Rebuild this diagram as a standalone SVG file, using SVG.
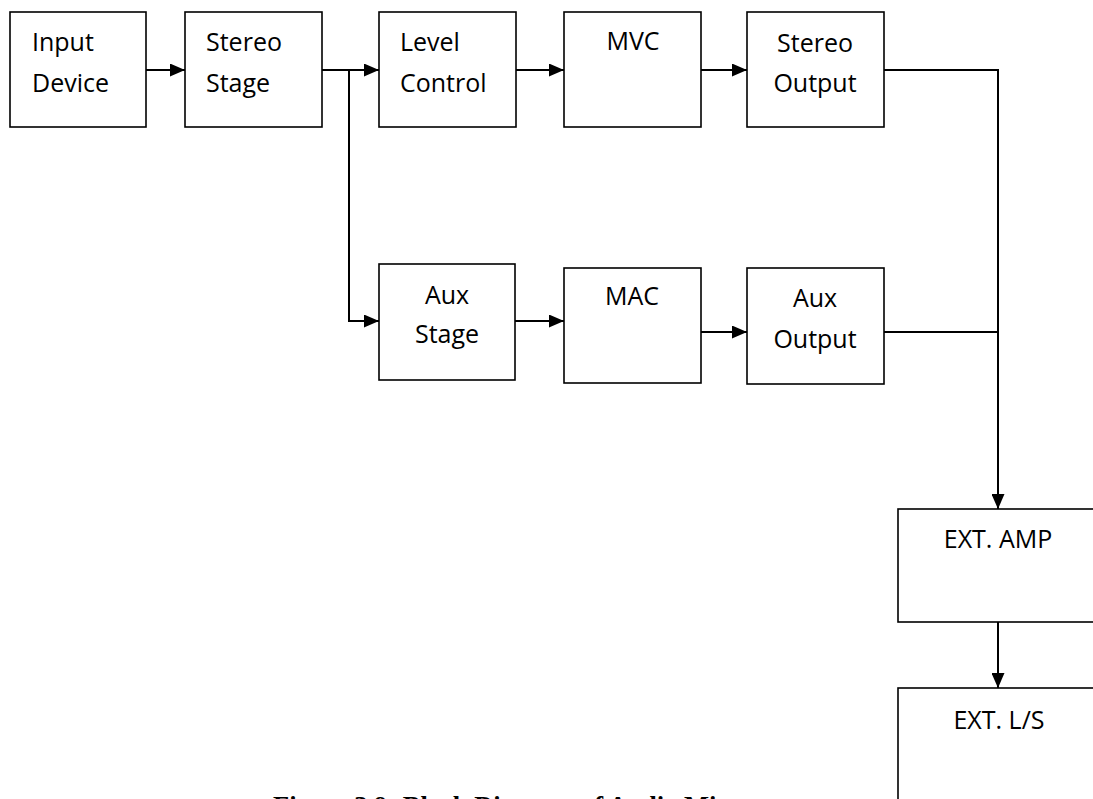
<svg xmlns="http://www.w3.org/2000/svg" width="1093" height="799" viewBox="0 0 1093 799">
<style>
.box{fill:#fff;stroke:#000;stroke-width:1.6}
.lbl{font-family:"Open Sans","Noto Sans",sans-serif;font-size:25px;fill:#000}
.mid{text-anchor:middle}
.conn{fill:none;stroke:#000;stroke-width:2}
.cap{font-family:"Liberation Serif","Times New Roman",serif;font-weight:bold;font-size:26.5px;fill:#000}
</style>
<defs>
<marker id="arr" markerUnits="userSpaceOnUse" markerWidth="15" markerHeight="13" refX="15" refY="6.5" orient="auto">
<path d="M0,0 L15,6.5 L0,13 z" fill="#000"/>
</marker>
</defs>
<rect width="1093" height="799" fill="#fff"/>
<g id="connectors">
<path class="conn" d="M146,70 H185" marker-end="url(#arr)"/>
<path class="conn" d="M322,70 H379" marker-end="url(#arr)"/>
<path class="conn" d="M349,70 V321 H379" marker-end="url(#arr)"/>
<path class="conn" d="M516,70 H564" marker-end="url(#arr)"/>
<path class="conn" d="M701,70 H747" marker-end="url(#arr)"/>
<path class="conn" d="M884,70 H998 V509" marker-end="url(#arr)"/>
<path class="conn" d="M515,321 H564" marker-end="url(#arr)"/>
<path class="conn" d="M701,332 H747" marker-end="url(#arr)"/>
<path class="conn" d="M884,332 H998"/>
<path class="conn" d="M998,622 V688" marker-end="url(#arr)"/>
</g>
<g id="input-device">
<rect class="box" x="10" y="12" width="136" height="115"/>
<text class="lbl" x="32" y="51">Input</text>
<text class="lbl" x="32" y="92">Device</text>
</g>
<g id="stereo-stage">
<rect class="box" x="185" y="12" width="137" height="115"/>
<text class="lbl" x="206" y="51">Stereo</text>
<text class="lbl" x="206" y="92">Stage</text>
</g>
<g id="level-control">
<rect class="box" x="379" y="12" width="137" height="115"/>
<text class="lbl" x="400" y="51">Level</text>
<text class="lbl" x="400" y="92">Control</text>
</g>
<g id="mvc">
<rect class="box" x="564" y="12" width="137" height="115"/>
<text class="lbl mid" x="633" y="50">MVC</text>
</g>
<g id="stereo-output">
<rect class="box" x="747" y="12" width="137" height="115"/>
<text class="lbl mid" x="815" y="52">Stereo</text>
<text class="lbl mid" x="815" y="92">Output</text>
</g>
<g id="aux-stage">
<rect class="box" x="379" y="264" width="136" height="116"/>
<text class="lbl mid" x="447" y="304">Aux</text>
<text class="lbl mid" x="447" y="343">Stage</text>
</g>
<g id="mac">
<rect class="box" x="564" y="268" width="137" height="115"/>
<text class="lbl mid" x="632" y="305">MAC</text>
</g>
<g id="aux-output">
<rect class="box" x="747" y="268" width="137" height="116"/>
<text class="lbl mid" x="815" y="307">Aux</text>
<text class="lbl mid" x="815" y="348">Output</text>
</g>
<g id="ext-amp">
<rect class="box" x="898" y="509" width="200" height="113"/>
<text class="lbl mid" x="998" y="548">EXT. AMP</text>
</g>
<g id="ext-ls">
<rect class="box" x="898" y="688" width="200" height="130"/>
<text class="lbl mid" x="999" y="729">EXT. L/S</text>
</g>
<text class="cap" x="273" y="814.5">Figure 3.9: Block Diagram of Audio Mixer</text>
</svg>
